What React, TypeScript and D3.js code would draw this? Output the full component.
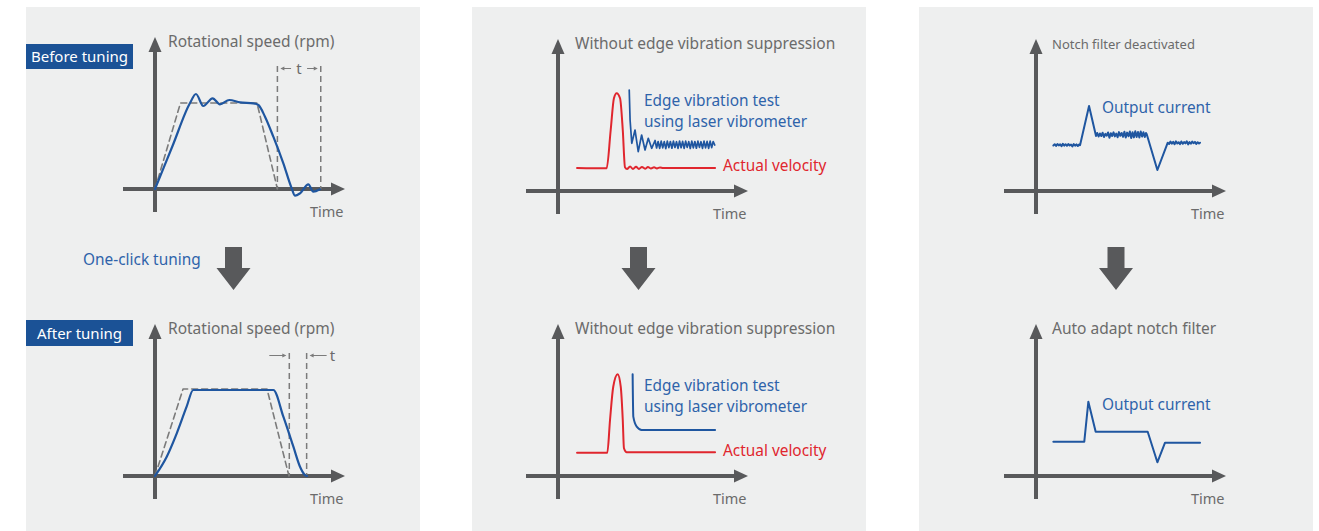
import * as d3 from 'd3';

// ---- data (time units 0..100 along x, signal units 0..100 along y) ----

// before tuning: commanded profile and measured speed
const BEFORE_CMD: [number, number][] = [[0, 0], [15, 86], [60, 86], [72, 0]];
const BEFORE_SPEED: [number, number][] = [
  [0, 0], [10.3, 43], [20.6, 86], [24.1, 95], [28.4, 83], [33.9, 90.7], [38.2, 84.7], [43.7, 89],
  [50, 86.7], [57.8, 85.7], [60.8, 84], [64.7, 72.3], [69.6, 52.3], [75.5, 25.7],
  [80.4, 0.7], [82.4, -6.7], [85.3, -4.3], [90.2, 4.7], [93.1, -2.7], [97, -0.3],
];
const BEFORE_T = [72, 97.5];

// after tuning
const AFTER_CMD: [number, number][] = [[0, 0], [16.5, 87], [65.9, 87], [78.8, 0]];
const AFTER_SPEED: [number, number][] = [
  [0, 0], [6.9, 19.3], [12.8, 42.7], [18.6, 69.3], [22.5, 86], [69.6, 86],
  [75.5, 59.3], [81.4, 29.3], [85.3, 9.3], [88.2, 1], [89.4, 0],
];
const AFTER_T = [79, 89.2];
const T_TOP = 123;

// edge vibration, without suppression
const VEL_RAW: [number, number][] = [
  [11.2, 23], [28.6, 22.7], [31, 61], [32.9, 92.7], [34.5, 97.7], [36.5, 92.7], [38.1, 61], [39.4, 23.7],
  [40.6, 22], [42.4, 24.5], [44.1, 22], [45.9, 24.3], [47.6, 22.1], [49.4, 24.1], [51.2, 22.3],
  [52.9, 23.9], [54.7, 22.5], [56.5, 23.7], [58.2, 22.6], [60, 23.5], [61.8, 23], [92.4, 23],
];
const EDGE_RAW: [number, number][] = [
  [41.9, 101], [42.4, 71], [43.4, 47.7], [45.3, 61], [47.2, 39.3], [49.2, 56], [51.2, 41],
  [53.1, 52.7], [55.1, 42.7], [57.1, 50.5],
  [58.0, 43], [58.9, 49.5], [59.8, 42.6], [60.7, 49.8], [61.6, 43.2], [62.5, 49.4], [63.4, 42.4],
  [64.3, 49.9], [65.2, 43.4], [66.1, 49.5], [67.0, 42.8], [67.9, 49.8], [68.8, 43.5], [69.7, 49.3],
  [70.6, 42.6], [71.5, 50], [72.4, 43.3], [73.3, 49.6], [74.2, 42.7], [75.1, 49.8], [76.0, 43.6],
  [76.9, 49.4], [77.8, 42.5], [78.7, 49.9], [79.6, 43.2], [80.5, 49.5], [81.4, 42.8], [82.3, 49.8],
  [83.2, 43.6], [84.1, 49.3], [85.0, 42.6], [85.9, 49.9], [86.8, 43.1], [87.7, 49.6], [88.6, 42.7],
  [89.5, 49.8], [90.4, 43.4], [91.3, 49.5], [92.2, 46],
];

// edge vibration, suppressed
const VEL_SUP: [number, number][] = [
  [11.2, 23.3], [29, 23.3], [30.6, 56], [32.5, 89.3], [35.1, 101.7], [36.9, 89.3], [38.1, 56],
  [38.8, 27.7], [40.4, 23.7], [92.4, 23.7],
];
const EDGE_SUP: [number, number][] = [[43.9, 101.7], [44.3, 59.3], [46.3, 49.3], [49.2, 46], [92.4, 46]];

// output current, notch filter off / auto adapt
const CUR_RAW: [number, number][] = [
  [10.2, 45.5], [11, 46.8], [11.8, 45], [12.6, 47], [13.4, 45.6], [14.2, 46.6], [15, 44.8], [15.8, 47.2],
  [16.6, 45.4], [17.4, 46.8], [18.2, 45.2], [19, 47], [19.8, 45.5], [20.6, 46.4], [21.4, 44.6],
  [22.2, 46.9], [23, 45.3], [23.8, 46.6], [24.6, 45], [25.4, 46.5], [25.9, 45.8],
  [31.2, 85], [35.3, 55],
  [36, 58], [36.8, 54.5], [37.6, 57.5], [38.4, 55], [39.2, 58.3], [40, 54], [40.8, 57.2], [41.6, 55.3],
  [42.4, 58.5], [43.2, 53.2], [44, 57.8], [44.8, 55], [45.6, 58.6], [46.4, 54.6], [47.2, 57.4],
  [48, 53.8], [48.8, 58.9], [49.6, 55.2], [50.4, 58], [51.2, 54.2], [52, 59.2], [52.8, 53.5],
  [53.6, 58.4], [54.4, 54.8], [55.2, 59.5], [56, 53], [56.8, 58.7], [57.6, 53.6], [58.4, 59.8],
  [59.2, 54], [60, 59], [60.8, 53.4], [61.6, 59.6], [62.4, 54.4], [63.2, 58.8], [64, 54], [64.7, 58],
  [65.1, 57],
  [71.4, 21], [77.5, 48.3],
  [78.3, 47], [79.1, 49.4], [79.9, 47.4], [80.7, 49.2], [81.5, 46.8], [82.3, 49.6], [83.1, 47.5],
  [83.9, 48.8], [84.7, 46.9], [85.5, 49.5], [86.3, 47.2], [87.1, 49], [87.9, 47.6], [88.7, 49.7],
  [89.5, 46.6], [90.3, 48.9], [91.1, 47.3], [91.9, 49.4], [92.7, 47.8], [93.5, 49.1], [94.3, 47],
  [95.1, 48.8], [95.9, 47.5], [96.5, 48.3],
];
const CUR_NOTCH: [number, number][] = [
  [10.2, 34.3], [28.4, 34.3], [30.8, 74.3], [35.1, 44.3], [65.7, 44.3], [71.4, 13.7], [75.9, 33.3], [96.5, 33.3],
];

// ---- styles ----
const AXIS = '#58595b';
const GRAY_TXT = '#6b6b6b';
const BLUE = '#1f56a0';
const BLUE_TXT = '#2e63aa';
const RED = '#e0262e';
const DASH = '#7b7b7b';
const PANEL = '#eeefef';
const FONT = '"Noto Sans", "Open Sans", sans-serif';
const LABEL_SIZE = 15.4;

type Series = { data: [number, number][]; color: string; width?: number; dash?: string; smooth?: boolean };
type Label = { text: string[]; dx: number; dy: number; color: string; size?: number };

function MiniChart({ ox, oy, title, titleDx, titleSize = 15.5, series, labels = [], tMarks }: {
  ox: number; oy: number; title: string; titleDx: number; titleSize?: number;
  series: Series[]; labels?: Label[]; tMarks?: { xs: number[]; inward: boolean };
}) {
  const x = d3.scaleLinear().domain([0, 100]).range([ox, ox + 170]);
  const y = d3.scaleLinear().domain([0, 100]).range([oy, oy - 100]);
  const xEnd = ox + 190, yEnd = oy - 152;

  return (
    <g>
      {/* axes */}
      <line x1={ox - 32} x2={xEnd - 12} y1={oy} y2={oy} stroke={AXIS} strokeWidth={4} />
      <line x1={ox} x2={ox} y1={oy + 23} y2={yEnd + 12} stroke={AXIS} strokeWidth={4} />
      <path d={`M${xEnd},${oy} L${xEnd - 14},${oy - 6.5} L${xEnd - 14},${oy + 6.5} Z`} fill={AXIS} />
      <path d={`M${ox},${yEnd} L${ox - 6.5},${yEnd + 15} L${ox + 6.5},${yEnd + 15} Z`} fill={AXIS} />
      <text x={ox + titleDx} y={oy - 142} fontSize={titleSize} fill={GRAY_TXT}>{title}</text>
      <text x={ox + 155} y={oy + 28} fontSize={14.5} fill={GRAY_TXT}>Time</text>

      {tMarks && (() => {
        const [a, b] = tMarks.xs.map(v => x(v));
        const top = y(T_TOP);
        const ay = top + 2.5;
        return (
          <g>
            {[a, b].map((vx, i) => (
              <line key={i} x1={vx} x2={vx} y1={top} y2={oy} stroke={DASH} strokeWidth={1.5} strokeDasharray="6,4" />
            ))}
            {tMarks.inward ? (
              <g stroke={DASH} strokeWidth={1} fill={DASH}>
                <line x1={a - 20} x2={a - 4} y1={ay} y2={ay} />
                <path d={`M${a - 3},${ay} l-4,-2 v4 Z`} stroke="none" />
                <line x1={b + 4} x2={b + 20} y1={ay} y2={ay} />
                <path d={`M${b + 3},${ay} l4,-2 v4 Z`} stroke="none" />
                <text x={b + 23} y={ay + 5} fontSize={15} fill={GRAY_TXT} stroke="none">t</text>
              </g>
            ) : (
              <g stroke={DASH} strokeWidth={1} fill={DASH}>
                <line x1={a + 4} x2={(a + b) / 2 - 8} y1={ay} y2={ay} />
                <path d={`M${a + 3},${ay} l4,-2 v4 Z`} stroke="none" />
                <line x1={(a + b) / 2 + 8} x2={b - 4} y1={ay} y2={ay} />
                <path d={`M${b - 3},${ay} l-4,-2 v4 Z`} stroke="none" />
                <text x={(a + b) / 2} y={ay + 5} fontSize={15} fill={GRAY_TXT} stroke="none" textAnchor="middle">t</text>
              </g>
            )}
          </g>
        );
      })()}

      {series.map((s, i) => {
        const gen = d3.line<[number, number]>()
          .x(d => x(d[0])).y(d => y(d[1]))
          .curve(s.smooth ? d3.curveMonotoneX : d3.curveLinear);
        return (
          <path key={i} d={gen(s.data) ?? ''} fill="none" stroke={s.color} strokeWidth={s.width ?? 2.2}
            strokeDasharray={s.dash} strokeLinejoin="round" strokeLinecap="round" />
        );
      })}

      {labels.map((l, i) => (
        <g key={i}>
          {l.text.map((t, j) => (
            <text key={j} x={ox + l.dx} y={oy + l.dy + j * 21} fontSize={l.size ?? LABEL_SIZE} fill={l.color}>{t}</text>
          ))}
        </g>
      ))}
    </g>
  );
}

function DownArrow({ cx }: { cx: number }) {
  return <path d={`M${cx - 8.5},247 H${cx + 8.5} V268 H${cx + 17} L${cx},290 L${cx - 17},268 H${cx - 8.5} Z`} fill={AXIS} />;
}

function Tag({ y, h, text }: { y: number; h: number; text: string }) {
  return (
    <g>
      <rect x={26} y={y} width={107} height={h} fill="#1b5296" />
      <text x={79.5} y={y + h / 2 + 5.5} textAnchor="middle" fontSize={15} fill="#fff">{text}</text>
    </g>
  );
}

export default function App() {
  const PANELS = [26, 472, 919];
  return (
    <svg width={1319} height={531} style={{ position: 'absolute', left: 0, top: 0, background: '#fff' }} fontFamily={FONT}>
      {PANELS.map(px => <rect key={px} x={px} y={7} width={394} height={524} fill={PANEL} />)}

      {/* panel 1: one-click tuning */}
      <Tag y={44} h={25} text="Before tuning" />
      <MiniChart ox={155} oy={189} title="Rotational speed (rpm)" titleDx={13}
        tMarks={{ xs: BEFORE_T, inward: false }}
        series={[
          { data: BEFORE_CMD, color: DASH, width: 1.6, dash: '6,4' },
          { data: BEFORE_SPEED, color: BLUE, smooth: true },
        ]} />
      <text x={83} y={265} fontSize={LABEL_SIZE} fill={BLUE_TXT}>One-click tuning</text>
      <DownArrow cx={233.5} />
      <Tag y={320} h={26} text="After tuning" />
      <MiniChart ox={155} oy={476} title="Rotational speed (rpm)" titleDx={13}
        tMarks={{ xs: AFTER_T, inward: true }}
        series={[
          { data: AFTER_CMD, color: DASH, width: 1.6, dash: '6,4' },
          { data: AFTER_SPEED, color: BLUE, smooth: true },
        ]} />

      {/* panel 2: edge vibration suppression */}
      <MiniChart ox={558} oy={191} title="Without edge vibration suppression" titleDx={17}
        series={[
          { data: VEL_RAW, color: RED, width: 2, smooth: true },
          { data: EDGE_RAW, color: BLUE, width: 1.7 },
        ]}
        labels={[
          { text: ['Edge vibration test', 'using laser vibrometer'], dx: 86, dy: -85, color: BLUE_TXT },
          { text: ['Actual velocity'], dx: 165, dy: -20, color: RED },
        ]} />
      <DownArrow cx={638.5} />
      <MiniChart ox={558} oy={476} title="Without edge vibration suppression" titleDx={17}
        series={[
          { data: VEL_SUP, color: RED, width: 2, smooth: true },
          { data: EDGE_SUP, color: BLUE, width: 2, smooth: true },
        ]}
        labels={[
          { text: ['Edge vibration test', 'using laser vibrometer'], dx: 86, dy: -85, color: BLUE_TXT },
          { text: ['Actual velocity'], dx: 165, dy: -20, color: RED },
        ]} />

      {/* panel 3: notch filter */}
      <MiniChart ox={1036} oy={191} title="Notch filter deactivated" titleDx={16} titleSize={13}
        series={[{ data: CUR_RAW, color: BLUE, width: 2 }]}
        labels={[{ text: ['Output current'], dx: 66, dy: -78, color: BLUE_TXT }]} />
      <DownArrow cx={1116} />
      <MiniChart ox={1036} oy={476} title="Auto adapt notch filter" titleDx={16}
        series={[{ data: CUR_NOTCH, color: BLUE, width: 2 }]}
        labels={[{ text: ['Output current'], dx: 66, dy: -66, color: BLUE_TXT }]} />
    </svg>
  );
}
